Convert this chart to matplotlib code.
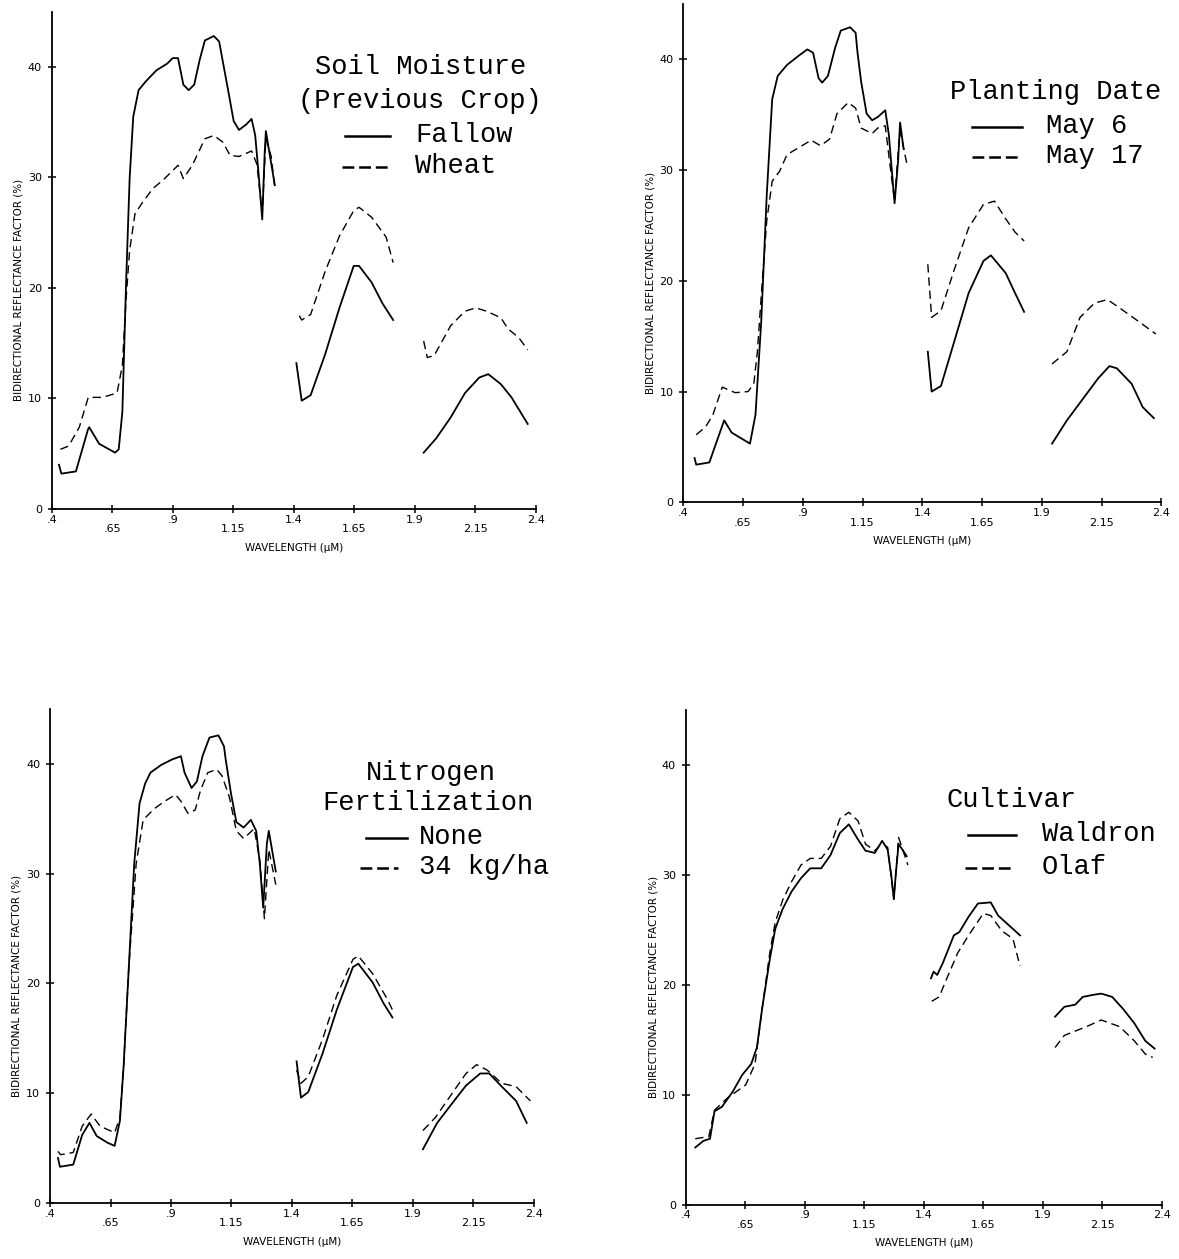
import numpy as np
import matplotlib.pyplot as plt
from matplotlib.lines import Line2D

nan = np.nan

# axis ticks
wl_major = [0.4, 0.9, 1.4, 1.9, 2.4]
wl_major_labels = [".4", ".9", "1.4", "1.9", "2.4"]
wl_minor = [0.65, 1.15, 1.65, 2.15]
wl_minor_labels = [".65", "1.15", "1.65", "2.15"]
refl_ticks = [0, 10, 20, 30, 40]
refl_tick_labels = ["0", "10", "20", "30", "40"]

# --- Soil moisture (previous crop) ---
soil_wl_fallow = [0.43, 0.44, 0.50, 0.55, 0.555, 0.596, 0.662, 0.677, 0.692, 0.707, 0.722, 0.737,
                  0.759, 0.789, 0.833, 0.877, 0.90, 0.922, 0.944, 0.966, 0.989, 1.011, 1.033, 1.07,
                  1.092, 1.107, 1.129, 1.152, 1.174, 1.204, 1.226, 1.241, 1.255, 1.27, 1.28, 1.285,
                  1.30, 1.322, nan,
                  1.411, 1.433, 1.47, 1.53, 1.589, 1.648, 1.67, 1.722, 1.767, 1.811, nan,
                  1.937, 1.989, 2.049, 2.108, 2.167, 2.204, 2.256, 2.30, 2.367]
soil_fallow = [4.0, 3.2, 3.4, 7.2, 7.4, 5.9, 5.1, 5.4, 8.8, 20.2, 29.9, 35.5,
               37.9, 38.7, 39.7, 40.3, 40.8, 40.8, 38.4, 37.9, 38.4, 40.6, 42.4, 42.8,
               42.3, 40.5, 37.9, 35.1, 34.3, 34.8, 35.3, 33.8, 30.3, 26.2, 32.2, 34.2,
               32.2, 29.3, nan,
               13.2, 9.8, 10.3, 14.0, 18.2, 22.0, 22.0, 20.5, 18.6, 17.1, nan,
               5.1, 6.4, 8.3, 10.5, 11.9, 12.2, 11.3, 10.1, 7.7]
soil_wl_wheat = [0.436, 0.47, 0.514, 0.551, 0.61, 0.67, 0.692, 0.707, 0.722, 0.744, 0.774, 0.818,
                 0.862, 0.922, 0.944, 0.981, 1.033, 1.07, 1.107, 1.137, 1.174, 1.226, 1.248, 1.27,
                 1.285, 1.307, 1.322, nan,
                 1.423, 1.433, 1.47, 1.53, 1.589, 1.648, 1.67, 1.722, 1.782, 1.811, nan,
                 1.937, 1.952, 1.981, 2.049, 2.108, 2.152, 2.197, 2.256, 2.286, 2.33, 2.367]
soil_wheat = [5.4, 5.7, 7.4, 10.1, 10.1, 10.5, 13.0, 18.9, 23.4, 26.7, 27.7, 29.0,
              29.8, 31.1, 29.9, 31.1, 33.5, 33.8, 33.2, 32.0, 31.9, 32.4, 31.2, 26.7,
              33.5, 31.9, 29.0, nan,
              17.5, 17.1, 17.6, 21.5, 24.7, 27.0, 27.3, 26.4, 24.6, 22.3, nan,
              15.2, 13.7, 13.9, 16.6, 17.9, 18.2, 17.9, 17.3, 16.3, 15.5, 14.4]

# --- Planting date ---
plant_wl_may6 = [0.447, 0.454, 0.509, 0.571, 0.602, 0.679, 0.702, 0.726, 0.749, 0.772, 0.795, 0.834,
                 0.881, 0.919, 0.943, 0.966, 0.981, 1.005, 1.036, 1.059, 1.098, 1.121, 1.129, 1.144,
                 1.167, 1.19, 1.214, 1.245, 1.26, 1.284, 1.299, 1.307, 1.322, nan,
                 1.423, 1.439, 1.478, 1.532, 1.594, 1.656, 1.687, 1.749, 1.788, 1.826, nan,
                 1.943, 2.005, 2.074, 2.136, 2.183, 2.214, 2.276, 2.322, 2.369]
plant_may6 = [4.0, 3.4, 3.6, 7.4, 6.3, 5.3, 7.9, 16.3, 27.7, 36.4, 38.5, 39.5,
              40.3, 40.9, 40.6, 38.3, 37.9, 38.5, 41.1, 42.6, 42.9, 42.4, 40.6, 38.0,
              35.1, 34.5, 34.8, 35.4, 33.2, 27.0, 30.9, 34.3, 31.9, nan,
              13.6, 10.0, 10.5, 14.4, 18.9, 21.8, 22.3, 20.7, 18.9, 17.2, nan,
              5.3, 7.4, 9.4, 11.2, 12.3, 12.1, 10.7, 8.6, 7.6]
plant_wl_may17 = [0.454, 0.493, 0.524, 0.563, 0.617, 0.671, 0.695, 0.71, 0.726, 0.749, 0.772, 0.803,
                  0.834, 0.881, 0.935, 0.974, 1.012, 1.043, 1.09, 1.121, 1.144, 1.19, 1.214, 1.245,
                  1.268, 1.284, 1.299, 1.307, 1.338, nan,
                  1.423, 1.439, 1.478, 1.532, 1.594, 1.656, 1.702, 1.749, 1.788, 1.826, nan,
                  1.943, 2.005, 2.06, 2.121, 2.175, 2.229, 2.307, 2.377]
plant_may17 = [6.1, 6.8, 7.9, 10.4, 9.9, 10.0, 10.7, 13.6, 18.6, 25.4, 29.0, 29.9,
               31.4, 32.0, 32.7, 32.2, 32.8, 35.1, 36.1, 35.6, 33.8, 33.3, 33.8, 34.0,
               29.9, 27.2, 31.6, 33.5, 30.3, nan,
               21.5, 16.7, 17.3, 20.9, 24.8, 26.9, 27.2, 25.6, 24.4, 23.6, nan,
               12.5, 13.6, 16.7, 18.0, 18.3, 17.5, 16.3, 15.2]

# --- Nitrogen fertilization ---
nitro_wl_none = [0.433, 0.441, 0.496, 0.533, 0.563, 0.593, 0.637, 0.667, 0.689, 0.704, 0.726, 0.748,
                 0.77, 0.793, 0.815, 0.859, 0.904, 0.941, 0.956, 0.985, 1.007, 1.03, 1.059, 1.096,
                 1.119, 1.126, 1.148, 1.17, 1.20, 1.23, 1.252, 1.267, 1.281, 1.296, 1.304, 1.333, nan,
                 1.419, 1.437, 1.467, 1.526, 1.585, 1.652, 1.674, 1.733, 1.778, 1.815, nan,
                 1.941, 2.0, 2.059, 2.119, 2.178, 2.215, 2.267, 2.326, 2.37]
nitro_none = [4.1, 3.3, 3.5, 6.2, 7.3, 6.1, 5.5, 5.2, 7.5, 12.4, 21.6, 30.9,
              36.4, 38.2, 39.2, 39.9, 40.4, 40.7, 39.2, 37.8, 38.4, 40.7, 42.4, 42.6,
              41.6, 40.4, 37.3, 34.7, 34.2, 34.9, 33.9, 30.9, 26.9, 32.7, 33.9, 30.2, nan,
              12.9, 9.6, 10.1, 13.6, 17.6, 21.5, 21.8, 20.1, 18.2, 16.9, nan,
              4.9, 7.3, 9.0, 10.7, 11.8, 11.8, 10.6, 9.3, 7.3]
nitro_wl_34 = [0.433, 0.444, 0.496, 0.533, 0.57, 0.607, 0.667, 0.689, 0.704, 0.726, 0.756, 0.785,
               0.83, 0.874, 0.919, 0.941, 0.97, 1.0, 1.022, 1.052, 1.089, 1.111, 1.141, 1.17,
               1.20, 1.244, 1.267, 1.286, 1.304, 1.333, nan,
               1.419, 1.437, 1.467, 1.526, 1.585, 1.652, 1.674, 1.733, 1.793, 1.815, nan,
               1.941, 1.993, 2.059, 2.119, 2.163, 2.207, 2.267, 2.326, 2.385]
nitro_34 = [4.7, 4.4, 4.6, 7.0, 8.1, 7.0, 6.4, 7.8, 12.4, 21.6, 30.9, 34.9,
            35.9, 36.6, 37.2, 36.6, 35.5, 35.8, 37.6, 39.2, 39.5, 38.9, 37.0, 33.9,
            33.2, 34.1, 31.2, 25.9, 32.2, 29.0, nan,
            12.1, 10.9, 11.5, 14.9, 18.9, 22.2, 22.5, 20.9, 18.6, 17.6, nan,
            6.6, 7.8, 9.9, 11.8, 12.6, 12.1, 10.9, 10.6, 9.3]

# --- Cultivar ---
cult_wl_waldron = [0.44, 0.474, 0.502, 0.521, 0.552, 0.598, 0.637, 0.675, 0.699, 0.722, 0.753, 0.776,
                   0.807, 0.845, 0.884, 0.923, 0.969, 1.008, 1.047, 1.085, 1.124, 1.155, 1.194, 1.225,
                   1.248, 1.263, 1.274, 1.283, 1.294, 1.31, 1.328, nan,
                   1.43, 1.441, 1.456, 1.48, 1.526, 1.549, 1.588, 1.627, 1.681, 1.712, 1.758, 1.804, nan,
                   1.951, 1.99, 2.036, 2.067, 2.114, 2.145, 2.191, 2.237, 2.284, 2.33, 2.369]
cult_waldron = [5.2, 5.8, 6.0, 8.5, 8.9, 10.3, 11.8, 12.8, 14.3, 18.0, 22.3, 25.1,
                26.9, 28.5, 29.7, 30.6, 30.6, 31.8, 33.8, 34.6, 33.2, 32.2, 32.0, 33.1,
                32.3, 30.0, 27.8, 30.3, 32.8, 32.3, 31.7, nan,
                20.6, 21.2, 20.9, 22.0, 24.5, 24.8, 26.2, 27.4, 27.5, 26.3, 25.4, 24.5, nan,
                17.1, 18.0, 18.2, 18.9, 19.1, 19.2, 18.9, 17.8, 16.5, 14.9, 14.2]
cult_wl_olaf = [0.44, 0.497, 0.521, 0.575, 0.652, 0.691, 0.722, 0.753, 0.776, 0.807, 0.845, 0.884,
                0.923, 0.969, 1.008, 1.047, 1.085, 1.124, 1.155, 1.194, 1.225, 1.248, 1.274, 1.294,
                1.333, nan,
                1.433, 1.464, 1.495, 1.542, 1.588, 1.65, 1.681, 1.728, 1.774, 1.804, nan,
                1.951, 1.99, 2.083, 2.145, 2.222, 2.284, 2.33, 2.361]
cult_olaf = [6.0, 6.2, 8.6, 9.7, 10.9, 12.8, 18.0, 22.9, 25.7, 27.7, 29.4, 30.9,
             31.5, 31.5, 32.6, 35.1, 35.7, 34.9, 32.8, 32.2, 32.9, 32.5, 27.8, 33.4,
             30.9, nan,
             18.5, 18.9, 20.5, 22.9, 24.5, 26.5, 26.3, 24.9, 24.2, 21.7, nan,
             14.3, 15.4, 16.2, 16.8, 16.2, 14.9, 13.7, 13.4]

plt.rcParams["lines.scale_dashes"] = False

W, H = 1179, 1259
fig = plt.figure(figsize=(W / 100, H / 100), dpi=100)


def fx(x):
    return x / W


def fy(y):
    return 1 - y / H


def make_axes(left, right, bottom, top):
    ax = fig.add_axes([fx(left), fy(bottom), fx(right - left), (bottom - top) / H])
    ax.set_xlim(0.4, 2.4)
    ax.set_ylim(0, 45)
    for s in ("top", "right"):
        ax.spines[s].set_visible(False)
    for s in ("left", "bottom"):
        ax.spines[s].set_linewidth(1.3)
    ax.set_xticks(wl_major)
    ax.set_xticklabels(wl_major_labels)
    ax.set_xticks(wl_minor, minor=True)
    ax.set_xticklabels(wl_minor_labels, minor=True)
    ax.set_yticks(refl_ticks)
    ax.set_yticklabels(refl_tick_labels)
    ax.tick_params(axis="both", which="both", direction="inout", length=6, width=1.1,
                   labelsize=8)
    ax.tick_params(axis="x", which="major", pad=1)
    ax.tick_params(axis="x", which="minor", pad=8)
    ax.tick_params(axis="y", pad=4)
    ax.set_xlabel("WAVELENGTH (\u03bcM)", fontsize=7.5)
    ax.set_ylabel("BIDIRECTIONAL REFLECTANCE FACTOR (%)", fontsize=7.5)
    ax.xaxis.set_label_coords(0.5, -0.068)
    ax.yaxis.set_label_coords(-0.058, 0.44)
    return ax


def key(title_lines, entries, font=19.5):
    # title_lines: (text, x, y_center, ha); entries: (label, x0, x1, text_x, y_center, dashed)
    for txt, x, yc, ha in title_lines:
        fig.text(fx(x), fy(yc + 8), txt, ha=ha, va="baseline", fontsize=font,
                 family="Liberation Mono")
    for lab, x0, x1, tx, yc, dashed in entries:
        ln = Line2D([fx(x0), fx(x1)], [fy(yc + 2), fy(yc + 2)], transform=fig.transFigure,
                    color="black", lw=1.8)
        if dashed:
            ln.set_linestyle((0, (8.5, 3.5)))
        fig.add_artist(ln)
        fig.text(fx(tx), fy(yc + 8), lab, ha="left", va="baseline", fontsize=font,
                 family="Liberation Mono")


SOLID = dict(color="black", lw=1.3)
DASH = dict(color="black", lw=1.0, linestyle=(0, (6, 3.5)))

ax1 = make_axes(51.7, 535.7, 509, 11.7)
ax1.plot(soil_wl_fallow, soil_fallow, **SOLID)
ax1.plot(soil_wl_wheat, soil_wheat, **DASH)
key([("Soil Moisture", 421, 66, "center"), ("(Previous Crop)", 420, 100, "center")],
    [("Fallow", 345, 390, 415, 134, False), ("Wheat", 342, 388, 415, 165, True)])

ax2 = make_axes(683.3, 1161.3, 502.3, 4)
ax2.plot(plant_wl_may6, plant_may6, **SOLID)
ax2.plot(plant_wl_may17, plant_may17, **DASH)
key([("Planting Date", 950, 91, "left")],
    [("May 6", 972, 1022, 1046, 125, False), ("May 17", 972, 1022, 1046, 155, True)])

ax3 = make_axes(50, 534, 1203, 709)
ax3.plot(nitro_wl_none, nitro_none, **SOLID)
ax3.plot(nitro_wl_34, nitro_34, **DASH)
key([("Nitrogen", 431, 772, "center"), ("Fertilization", 428, 802, "center")],
    [("None", 366, 407, 419, 836, False), ("34 kg/ha", 360, 398, 419, 866, True)])

ax4 = make_axes(685.7, 1162, 1204.7, 710)
ax4.plot(cult_wl_waldron, cult_waldron, **SOLID)
ax4.plot(cult_wl_olaf, cult_olaf, **DASH)
key([("Cultivar", 946, 799, "left")],
    [("Waldron", 968, 1016, 1042, 833, False), ("Olaf", 965, 1015, 1042, 866, True)])

fig.savefig("out.png", dpi=100)
